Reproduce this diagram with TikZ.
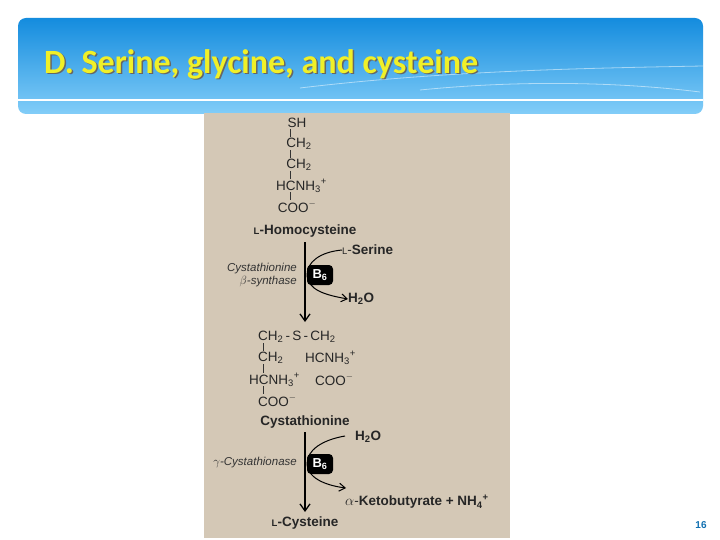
\documentclass[tikz,border=0pt]{standalone}
\usepackage{fontspec}
\setmainfont{Liberation Sans}
\newfontfamily\titlefont{Carlito}
\usetikzlibrary{arrows.meta}
\definecolor{tan}{RGB}{212,200,182}
\definecolor{bandtop}{RGB}{20,140,222}
\definecolor{bandbot}{RGB}{130,205,248}
\definecolor{titley}{RGB}{240,240,40}
\newcommand{\sbs}[1]{\textsubscript{#1}}
\newcommand{\sps}[1]{\textsuperscript{#1}}
\newcommand{\smallL}{{\fontsize{9.5}{11}\selectfont L}}
\tikzset{
 chem/.style={font=\fontsize{13.5}{15}\selectfont, inner sep=0pt, text=black!85},
 lbl/.style={font=\fontsize{13.5}{15}\selectfont\bfseries, inner sep=0pt, text=black!85},
 enz/.style={font=\fontsize{11.5}{13.5}\selectfont\itshape, inner sep=0pt, align=right, text=black!80},
 bsix/.style={fill=black, rounded corners=4pt, minimum width=26pt, minimum height=20pt, text=white, font=\fontsize{13}{14}\selectfont\bfseries, inner sep=0pt},
 bond/.style={line width=0.6pt, black!80},
 mainarrow/.style={line width=1.3pt, -{Straight Barb[length=7pt,width=10pt]}},
 side/.style={line width=1pt, -{Straight Barb[length=6pt,width=8pt]}},
 sidein/.style={line width=1pt},
 ttl/.style={anchor=west, font=\titlefont\bfseries\fontsize{34}{38}\selectfont, inner sep=0pt}
}
\begin{document}
\begin{tikzpicture}[x=1pt,y=-1pt]
\useasboundingbox (0,0) rectangle (720,540);
\fill[white] (0,0) rectangle (720,540);
% banner
\shade[top color=bandtop, bottom color=bandbot, rounded corners=8pt] (18,18) rectangle (703,114);
\draw[white, line width=2pt] (18,100) -- (703,100);
\draw[white, opacity=0.5, line width=0.8pt] (300,88) .. controls (450,70) and (600,68) .. (703,66);
\draw[white, opacity=0.5, line width=0.8pt] (420,90) .. controls (520,80) and (620,82) .. (700,92);
\node[ttl, text=black!60] (shadow) at (45.5,65.5) {D. Serine, glycine, and cysteine};
\node[ttl, text=titley] (title) at (44,64) {D. Serine, glycine, and cysteine};
% panel
\fill[tan] (204,113) rectangle (510,538);
% homocysteine
\node[chem] (sh) at (297,123) {SH};
\node[chem] (c1) at (299,144) {CH\sbs{2}};
\node[chem] (c2) at (299,165) {CH\sbs{2}};
\node[chem, anchor=west] (c3) at (276,186) {HCNH\sbs{3}\sps{+}};
\node[chem] (c4) at (297,207) {COO\sps{$-$}};
\draw[bond] (290,129) -- (290,137);
\draw[bond] (290,150) -- (290,158);
\draw[bond] (290,171) -- (290,179);
\draw[bond] (290,192) -- (290,200);
\node[lbl] (hcys) at (305,231) {\smallL-Homocysteine};
% first reaction
\coordinate (a1s) at (305,242);
\coordinate (a1e) at (305,322);
\draw[mainarrow] (a1s) -- (a1e);
\node[bsix] (b1) at (320,275) {B\sbs{6}};
\node[lbl, anchor=west] (ser) at (342,250) {\mdseries\smallL-\bfseries Serine};
\node[lbl, anchor=west] (h2o1) at (348,299) {H\sbs{2}O};
\draw[sidein] (ser.west) .. controls (320,252) and (307,262) .. (307,275);
\draw[side] (307,275) .. controls (308,290) and (325,295) .. (h2o1.west);
\node[enz] (enz1) at (262,275) {Cystathionine\\$\beta$-synthase};
% cystathionine
\node[chem, anchor=west] (r1) at (258,337) {CH\sbs{2}\,-\,S\,-\,CH\sbs{2}};
\node[chem, anchor=west] (r2a) at (258,358) {CH\sbs{2}};
\node[chem, anchor=west] (r2b) at (305,358) {HCNH\sbs{3}\sps{+}};
\node[chem, anchor=west] (r3a) at (249,380) {HCNH\sbs{3}\sps{+}};
\node[chem, anchor=west] (r3b) at (315,380) {COO\sps{$-$}};
\node[chem, anchor=west] (r4) at (258,401) {COO\sps{$-$}};
\draw[bond] (263,343) -- (263,351);
\draw[bond] (263,364) -- (263,373);
\draw[bond] (263,386) -- (263,394);
\node[lbl] (cysta) at (305,422) {Cystathionine};
% second reaction
\coordinate (a2s) at (305,432);
\coordinate (a2e) at (305,512);
\draw[mainarrow] (a2s) -- (a2e);
\node[bsix] (b2) at (320,464) {B\sbs{6}};
\node[lbl, anchor=west] (h2o2) at (355,437) {H\sbs{2}O};
\draw[sidein] (345,436) .. controls (322,440) and (307,450) .. (307,464);
\node[lbl, anchor=west] (keto) at (345,502) {\mdseries$\alpha$-\bfseries Ketobutyrate + NH\sbs{4}\sps{+}};
\draw[side] (307,464) .. controls (308,480) and (330,486) .. (346,488);
\node[enz, anchor=east] (enz2) at (297,463) {$\gamma$-Cystathionase};
\node[lbl] (cys) at (305,523) {\smallL-Cysteine};
% page number
\node[font=\fontsize{10}{12}\selectfont\bfseries, text=bandtop!80!black] (pg) at (701,525) {16};
\end{tikzpicture}
\end{document}
